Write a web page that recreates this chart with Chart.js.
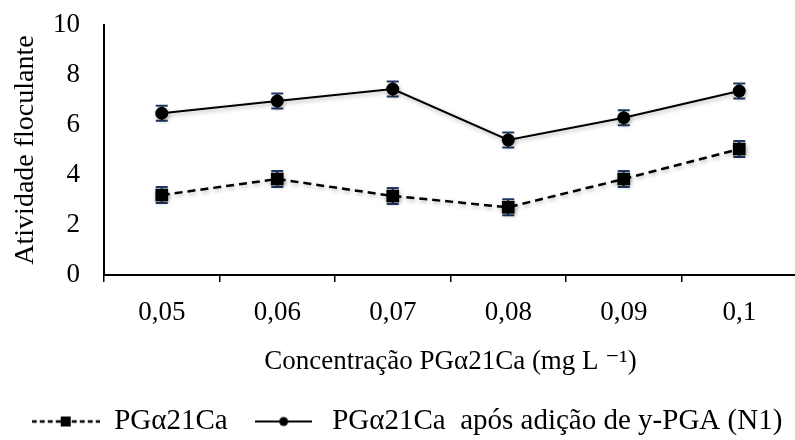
<!DOCTYPE html>
<html>
<head>
<meta charset="utf-8">
<script src="https://cdn.jsdelivr.net/npm/chart.js@4"></script>
<style>
  html, body { margin: 0; padding: 0; background: #fff; overflow: hidden; }
  #wrap { width: 806px; height: 454px; }
</style>
</head>
<body>
<div id="wrap"><canvas id="chart" width="806" height="454"></canvas></div>
<script>
const categories = ['0,05', '0,06', '0,07', '0,08', '0,09', '0,1'];
const pgValues = [3.2, 3.84, 3.16, 2.71, 3.84, 5.04];
const pgErrors = [0.32, 0.32, 0.32, 0.32, 0.32, 0.32];
const pgN1Values = [6.47, 6.96, 7.44, 5.4, 6.29, 7.36];
const pgN1Errors = [0.3, 0.3, 0.3, 0.3, 0.3, 0.3];
const yTicks = [0, 2, 4, 6, 8, 10];

const serif = "'Liberation Serif', 'DejaVu Serif', serif";
const errColor = '#1f3864';

function makeLegendIcon(width, dashed, square) {
  const c = document.createElement('canvas');
  c.width = width;
  c.height = 16;
  const ctx = c.getContext('2d');
  ctx.strokeStyle = '#000';
  ctx.fillStyle = '#000';
  ctx.lineWidth = dashed ? 2.5 : 2;
  if (dashed) ctx.setLineDash([5, 3]);
  ctx.beginPath();
  ctx.moveTo(0, 8);
  ctx.lineTo(width, 8);
  ctx.stroke();
  if (square) {
    ctx.fillRect(width / 2 - 5, 3, 10, 10);
  } else {
    ctx.beginPath();
    ctx.arc(width / 2, 8, 4.5, 0, Math.PI * 2);
    ctx.fill();
  }
  return c;
}

const legendIcons = [makeLegendIcon(68, true, true), makeLegendIcon(57, false, false)];

const errorBarPlugin = {
  id: 'errorBars',
  beforeDatasetsDraw(chart) {
    const ctx = chart.ctx;
    const y = chart.scales.y;
    ctx.save();
    ctx.strokeStyle = errColor;
    ctx.lineWidth = 2;
    chart.data.datasets.forEach((ds, i) => {
      const meta = chart.getDatasetMeta(i);
      meta.data.forEach((pt, j) => {
        const top = y.getPixelForValue(ds.data[j] + ds.errors[j]);
        const bot = y.getPixelForValue(ds.data[j] - ds.errors[j]);
        ctx.beginPath();
        ctx.moveTo(pt.x, top);
        ctx.lineTo(pt.x, bot);
        ctx.moveTo(pt.x - 6, top);
        ctx.lineTo(pt.x + 6, top);
        ctx.moveTo(pt.x - 6, bot);
        ctx.lineTo(pt.x + 6, bot);
        ctx.stroke();
      });
    });
    ctx.restore();
    ctx.save();
    ctx.shadowColor = 'rgba(0, 0, 0, 0.3)';
    ctx.shadowBlur = 4;
    ctx.shadowOffsetX = 1;
    ctx.shadowOffsetY = 2;
  },
  afterDatasetsDraw(chart) {
    chart.ctx.restore();
  }
};

const data = {
  labels: categories,
  datasets: [{
    label: 'PGα21Ca',
    data: pgValues,
    errors: pgErrors,
    borderColor: '#000',
    backgroundColor: '#000',
    borderWidth: 2.5,
    borderDash: [8, 5],
    pointStyle: 'rect',
    pointRadius: 9,
    pointBorderWidth: 0,
    tension: 0
  }, {
    label: 'PGα21Ca  após adição de y-PGA (N1)',
    data: pgN1Values,
    errors: pgN1Errors,
    borderColor: '#000',
    backgroundColor: '#000',
    borderWidth: 2,
    pointStyle: 'circle',
    pointRadius: 6.5,
    pointBorderWidth: 0,
    tension: 0
  }]
};

const config = {
  type: 'line',
  data: data,
  plugins: [errorBarPlugin],
  options: {
    responsive: false,
    animation: false,
    clip: false,
    layout: {
      padding: { top: 25, right: 0, bottom: 8, left: 8 }
    },
    plugins: {
      legend: {
        position: 'bottom',
        labels: {
          usePointStyle: true,
          pointStyleWidth: 68,
          padding: 22,
          color: '#000',
          font: { family: serif, size: 29 },
          generateLabels(chart) {
            const items = Chart.defaults.plugins.legend.labels.generateLabels(chart);
            items.forEach((it, i) => { it.pointStyle = legendIcons[i]; });
            return items;
          }
        }
      },
      tooltip: { enabled: false }
    },
    scales: {
      x: {
        offset: true,
        afterFit(scale) { scale.height = 110; },
        grid: {
          display: true,
          drawOnChartArea: false,
          offset: true,
          tickLength: 7,
          color: '#000',
          lineWidth: 1.5
        },
        border: { display: true, color: '#000', width: 2 },
        ticks: {
          color: '#000',
          padding: 15,
          font: { family: serif, size: 27 }
        },
        title: {
          display: true,
          text: 'Concentração PGα21Ca (mg L ⁻¹)',
          color: '#000',
          padding: { top: 0, bottom: 7 },
          font: { family: serif, size: 27 }
        }
      },
      y: {
        min: 0,
        max: 10,
        afterFit(scale) {
          scale.width = 96;
          scale.paddingTop = 0;
          scale.paddingBottom = 0;
        },
        afterBuildTicks(scale) {
          scale.ticks = yTicks.map(v => ({ value: v }));
        },
        grid: { display: false },
        border: { display: true, color: '#000', width: 2 },
        ticks: {
          color: '#000',
          padding: 16,
          font: { family: serif, size: 27 }
        },
        title: {
          display: true,
          text: 'Atividade floculante',
          color: '#000',
          padding: { top: 1, bottom: 0 },
          font: { family: serif, size: 28 }
        }
      }
    }
  }
};

const chart = new Chart(document.getElementById('chart'), config);
</script>
</body>
</html>
